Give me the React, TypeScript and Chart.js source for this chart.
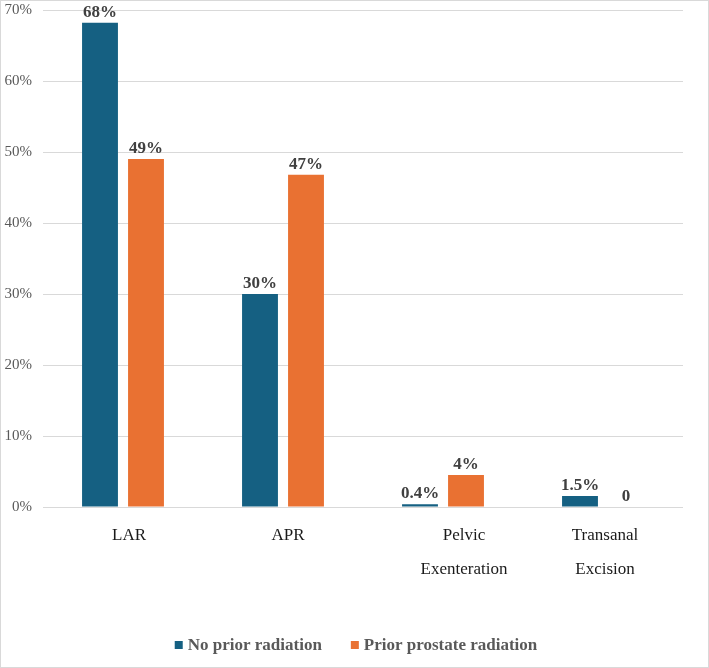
import React, { useEffect, useRef } from "react";
import { Chart, registerables } from "chart.js";

Chart.register(...registerables);

const categories: string[][] = [["LAR"], ["APR"], ["Pelvic", "Exenteration"], ["Transanal", "Excision"]];
const noPriorRadiation = [68.2, 30.0, 0.4, 1.55];
const priorProstateRadiation = [49.0, 46.8, 4.5, 0];
const noPriorLabels = ["68%", "30%", "0.4%", "1.5%"];
const priorLabels = ["49%", "47%", "4%", "0"];
const seriesNames = ["No prior radiation", "Prior prostate radiation"];
const seriesColors = ["#156082", "#E97132"];
const yTicks = [0, 10, 20, 30, 40, 50, 60, 70];

// horizontal nudges of the category label text (layout only)
const LABEL_SHIFT = [6, 5, 21, 2];

const SERIF = "'Liberation Serif', 'Times New Roman', serif";

const dataLabelPlugin = {
  id: "dataLabels",
  afterDatasetsDraw(chart: any) {
    const ctx = chart.ctx;
    const labelSets = [noPriorLabels, priorLabels];
    ctx.save();
    ctx.font = `bold 17px ${SERIF}`;
    ctx.fillStyle = "#404040";
    ctx.textAlign = "center";
    ctx.textBaseline = "alphabetic";
    chart.data.datasets.forEach((_ds: any, di: number) => {
      const meta = chart.getDatasetMeta(di);
      meta.data.forEach((el: any, i: number) => {
        ctx.fillText(labelSets[di][i], el.x, el.y - 6);
      });
    });
    ctx.restore();
  },
};

const categoryLabelPlugin = {
  id: "categoryLabels",
  afterDraw(chart: any) {
    const ctx = chart.ctx;
    const xScale = chart.scales.x;
    const base = chart.chartArea.bottom;
    ctx.save();
    ctx.font = `17px ${SERIF}`;
    ctx.fillStyle = "#1a1a1a";
    ctx.textAlign = "center";
    ctx.textBaseline = "middle";
    categories.forEach((lines, i) => {
      const x = xScale.getPixelForTick(i) + LABEL_SHIFT[i];
      lines.forEach((line, j) => {
        ctx.fillText(line, x, base + 29 + j * 34);
      });
    });
    ctx.restore();
  },
};

const customLegendPlugin = {
  id: "customLegend",
  afterDraw(chart: any) {
    const ctx = chart.ctx;
    ctx.save();
    ctx.font = `bold 17px ${SERIF}`;
    const box = 8;
    const gapBoxText = 5;
    const gapItems = 29;
    const widths = seriesNames.map((n) => ctx.measureText(n).width);
    const total = widths.reduce((a, w) => a + box + gapBoxText + w, 0) + gapItems * (seriesNames.length - 1);
    const centerX = 355;
    const y = 644;
    let x = centerX - total / 2;
    seriesNames.forEach((name, i) => {
      ctx.fillStyle = seriesColors[i];
      ctx.fillRect(x, y - box / 2, box, box);
      x += box + gapBoxText;
      ctx.fillStyle = "#595959";
      ctx.textAlign = "left";
      ctx.textBaseline = "middle";
      ctx.fillText(name, x, y + 1);
      x += widths[i] + gapItems;
    });
    ctx.restore();
  },
};

export default function App() {
  const canvasRef = useRef<HTMLCanvasElement | null>(null);

  useEffect(() => {
    document.body.style.margin = "0";
    const chart = new Chart(canvasRef.current!, {
      type: "bar",
      data: {
        labels: categories.map((c) => c.join(" ")),
        datasets: [
          {
            label: seriesNames[0],
            data: noPriorRadiation,
            backgroundColor: seriesColors[0],
            categoryPercentage: 0.575,
            barPercentage: 0.78,
          },
          {
            label: seriesNames[1],
            data: priorProstateRadiation,
            backgroundColor: seriesColors[1],
            categoryPercentage: 0.575,
            barPercentage: 0.78,
          },
        ],
      },
      options: {
        animation: false,
        responsive: false,
        maintainAspectRatio: false,
        layout: { padding: { left: 0, right: 25, top: 0, bottom: 160 } },
        scales: {
          x: {
            grid: { display: false },
            border: { display: false },
            ticks: { display: false },
            afterFit: (scale: any) => {
              scale.height = 0;
            },
          },
          y: {
            min: 0,
            max: 70,
            afterBuildTicks: (scale: any) => {
              scale.ticks = yTicks.map((v) => ({ value: v }));
            },
            afterFit: (scale: any) => {
              scale.width = 42;
              scale.paddingTop = 9;
              scale.paddingBottom = 0;
            },
            grid: { color: "#d9d9d9", drawTicks: false, lineWidth: 1 },
            border: { display: false },
            ticks: {
              color: "#595959",
              font: { family: SERIF, size: 15 },
              padding: 11,
              callback: (v: any) => `${v}%`,
            },
          },
        },
        plugins: {
          legend: { display: false },
          tooltip: { enabled: false },
        },
      },
      plugins: [dataLabelPlugin, categoryLabelPlugin, customLegendPlugin],
    });
    return () => chart.destroy();
  }, []);

  return (
    <div
      style={{
        position: "absolute",
        left: 0,
        top: 0,
        width: 709,
        height: 668,
        boxSizing: "border-box",
        border: "1px solid #d9d9d9",
        background: "#fff",
      }}
    >
      <canvas ref={canvasRef} width={707} height={666} style={{ display: "block", width: 707, height: 666 }} />
    </div>
  );
}
